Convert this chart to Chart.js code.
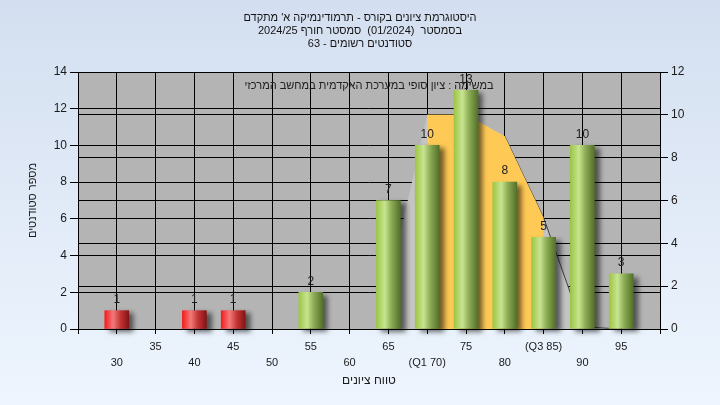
<!DOCTYPE html>
<html><head><meta charset="utf-8">
<script src="https://cdn.jsdelivr.net/npm/chart.js@4"></script>
<style>html,body{margin:0;padding:0;background:#e4ecf8;overflow:hidden}</style>
</head><body>
<canvas id="c" width="720" height="405" dir="rtl"></canvas>
<script>
const titleLines = ["היסטוגרמת ציונים בקורס - תרמודינמיקה א' מתקדם", "בסמסטר  (01/2024)  סמסטר חורף 2024/25", "סטודנטים רשומים - 63"];
const noteText = "במשימה : ציון סופי במערכת האקדמית במחשב המרכזי";
const xTitle = "טווח ציונים";
const yTitle = "מספר סטודנטים";
const gradeBins = [30, 40, 45, 55, 65, 70, 75, 80, 85, 90, 95];
const studentCounts = [1, 1, 1, 2, 7, 10, 13, 8, 5, 10, 3];
const passMark = 55;
const curveX = [65, 70, 75, 80, 85, 90, 95];
const curveY = [2, 10, 10, 9, 5.2, 0.1, 0];
const quartileX = [70, 75, 80, 85];
const quartileY = [10, 10, 9, 5.2];
const tickValues = [30, 35, 40, 45, 50, 55, 60, 65, 70, 75, 80, 85, 90, 95];
const tickLabels = ["30", "35", "40", "45", "50", "55", "60", "65", "(Q1 70)", "75", "80", "(Q3 85)", "90", "95"];

const FONT = '"Liberation Sans", "DejaVu Sans", Arial, sans-serif';
Chart.defaults.font.family = FONT;
Chart.defaults.color = '#1a1a1a';

function barFill(c) {
  const chart = c.chart;
  if (!chart.chartArea || c.type !== 'data' || !chart.scales.x) return '#9CC646';
  const cx = chart.scales.x.getPixelForValue(c.raw.x);
  const g = chart.ctx.createLinearGradient(cx - 12, 0, cx + 12, 0);
  if (c.raw.x < passMark) {
    g.addColorStop(0, '#F41C1C'); g.addColorStop(0.35, '#F27A7A');
    g.addColorStop(0.65, '#C43434'); g.addColorStop(1, '#841414');
  } else {
    g.addColorStop(0, '#9CC646'); g.addColorStop(0.35, '#C8E490');
    g.addColorStop(0.62, '#8DAD55'); g.addColorStop(1, '#53702A');
  }
  return g;
}

const bgPlugin = {
  id: 'bg',
  beforeDraw(chart) {
    const {ctx, width, height, chartArea: a} = chart;
    ctx.save();
    const g = ctx.createLinearGradient(0, 0, 0, height);
    g.addColorStop(0, '#D3DFF0'); g.addColorStop(1, '#EEF5FE');
    ctx.fillStyle = g; ctx.fillRect(0, 0, width, height);
    ctx.fillStyle = '#B4B4B4';
    ctx.fillRect(a.left, a.top, a.right - a.left, a.bottom - a.top);
    ctx.restore();
  }
};
const shadowPlugin = {
  id: 'shadow',
  beforeDatasetDraw(chart, args) {
    if (args.meta.type === 'bar') {
      const c = chart.ctx; c.save();
      c.shadowColor = 'rgba(0,0,0,0.55)'; c.shadowBlur = 5; c.shadowOffsetX = 5; c.shadowOffsetY = 3;
    }
  },
  afterDatasetDraw(chart, args) { if (args.meta.type === 'bar') chart.ctx.restore(); }
};
const labelPlugin = {
  id: 'labels',
  afterDatasetsDraw(chart) {
    const ctx = chart.ctx; const a = chart.chartArea;
    ctx.save();
    ctx.fillStyle = '#202020';
    ctx.textAlign = 'center'; ctx.textBaseline = 'middle';
    ctx.direction = 'rtl';
    ctx.font = '11px ' + FONT;
    ctx.fillText(noteText, (a.left + a.right) / 2, 86);
    ctx.font = '12px ' + FONT;
    const meta = chart.getDatasetMeta(0);
    meta.data.forEach((el, i) => {
      ctx.fillText(String(studentCounts[i]), el.x, el.y - 11);
    });
    ctx.restore();
  }
};

new Chart(document.getElementById('c'), {
  type: 'line',
  data: {
    datasets: [
      {
        type: 'bar', label: 'counts', yAxisID: 'y', order: 0, clip: false,
        data: gradeBins.map((x, i) => ({x, y: studentCounts[i]})),
        backgroundColor: barFill, borderWidth: 0, barThickness: 24
      },
      {
        type: 'line', label: 'iqr', yAxisID: 'y2', order: 1,
        data: quartileX.map((x, i) => ({x, y: quartileY[i]})),
        fill: 'origin', backgroundColor: '#FFC955', borderWidth: 0, pointRadius: 0, tension: 0
      },
      {
        type: 'line', label: 'curve', yAxisID: 'y2', order: 2,
        data: curveX.map((x, i) => ({x, y: curveY[i]})),
        fill: 'origin', backgroundColor: '#C4C4C4', borderWidth: 1, borderColor: '#404040',
        segment: { borderColor: s => s.p0.parsed.x >= 80 ? '#404040' : 'rgba(0,0,0,0)' },
        pointRadius: 0, tension: 0
      }
    ]
  },
  options: {
    responsive: false, animation: false,
    layout: { padding: 0 },
    plugins: {
      legend: { display: false }, tooltip: { enabled: false },
      title: {
        display: true, text: titleLines, color: '#141414',
        font: { size: 11, weight: 'normal', lineHeight: 13 / 11 },
        padding: { top: 11, bottom: 22 }
      }
    },
    scales: {
      x: {
        type: 'linear', min: 25, max: 100, offset: false,
        afterFit: s => { s.height = 76; },
        ticks: {
          stepSize: 5, autoSkip: false, maxRotation: 0, minRotation: 0, padding: 5,
          font: { size: 11, lineHeight: 16 / 11 }, color: '#1a1a1a',
          callback: v => { const i = tickValues.indexOf(v); if (i < 0) return ''; return i % 2 === 0 ? ['', tickLabels[i]] : [tickLabels[i]]; }
        },
        grid: { color: '#000', lineWidth: 1, tickLength: 5, offset: false, tickColor: '#000' },
        border: { color: '#000' },
        title: { display: true, text: xTitle, color: '#1a1a1a', font: { size: 12 }, padding: { top: 0, bottom: 17 } }
      },
      y: {
        position: 'left', min: 0, max: 14,
        afterFit: s => { s.width = 78; },
        ticks: { stepSize: 2, padding: 3, font: { size: 12 }, color: '#1a1a1a' },
        grid: { color: '#000', lineWidth: 1, tickLength: 8, tickColor: '#000' },
        border: { color: '#000' },
        title: { display: true, text: yTitle, color: '#1a1a1a', font: { size: 11 }, padding: { top: 26, bottom: 0 } }
      },
      y2: {
        position: 'right', min: 0, max: 12,
        afterFit: s => { s.width = 60; },
        ticks: { stepSize: 2, padding: 3, font: { size: 12 }, color: '#1a1a1a' },
        grid: { color: '#000', lineWidth: 1, tickLength: 8, tickColor: '#000', drawOnChartArea: true },
        border: { color: '#000' }
      }
    }
  },
  plugins: [bgPlugin, shadowPlugin, labelPlugin]
});
</script>
</body></html>
